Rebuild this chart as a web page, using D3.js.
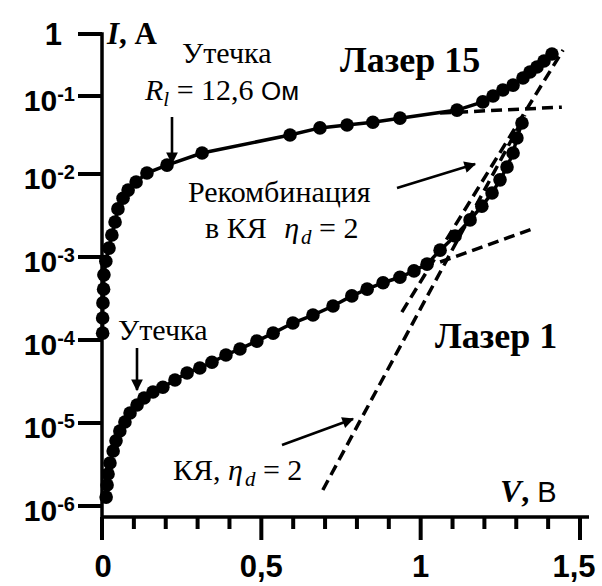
<!DOCTYPE html>
<html>
<head>
<meta charset="utf-8">
<script src="https://cdn.jsdelivr.net/npm/d3@7"></script>
<style>
  body { margin: 0; background: #fff; }
  svg { display: block; }
  .serif { font-family: "Liberation Serif", "Times New Roman", serif; }
  .sans { font-family: "Liberation Sans", Arial, sans-serif; }
</style>
</head>
<body>
<svg id="chart" width="602" height="586"></svg>
<script>
// Laser 15 (upper curve), V in volts, I in amperes
var laser15V = [0.002, 0.002, 0.003, 0.005, 0.006, 0.012, 0.022, 0.031, 0.041, 0.050,
    0.066, 0.082, 0.107, 0.141, 0.204, 0.314, 0.590, 0.684, 0.769, 0.850,
    0.935, 1.114, 1.195, 1.227, 1.258, 1.290, 1.321, 1.343, 1.365, 1.387, 1.412];
var laser15I = [1.21e-4, 1.84e-4, 2.8e-4, 4.1e-4, 6.1e-4, 8.9e-4, 1.28e-3, 1.84e-3, 2.64e-3, 3.8e-3,
    5.1e-3, 6.4e-3, 8.0e-3, 1.03e-2, 1.30e-2, 1.86e-2, 3.16e-2, 3.9e-2, 4.25e-2, 4.6e-2,
    5.2e-2, 6.6e-2, 8.4e-2, 0.100, 0.125, 0.150, 0.195, 0.244, 0.294, 0.367, 0.475];

// Laser 1 (lower curve)
var laser1V = [0.013, 0.016, 0.019, 0.025, 0.035, 0.044, 0.056, 0.072, 0.088, 0.110,
    0.132, 0.160, 0.191, 0.229, 0.267, 0.307, 0.345, 0.389, 0.433, 0.486,
    0.537, 0.599, 0.662, 0.725, 0.784, 0.832, 0.882, 0.935, 0.979, 1.020,
    1.061, 1.108, 1.155, 1.192, 1.224, 1.249, 1.271, 1.290, 1.302, 1.318];
var laser1I = [1.28e-6, 1.79e-6, 2.43e-6, 3.3e-6, 4.6e-6, 6.1e-6, 8.0e-6, 1.03e-5, 1.32e-5, 1.65e-5,
    2.0e-5, 2.36e-5, 2.7e-5, 3.3e-5, 4.0e-5, 4.6e-5, 5.4e-5, 6.6e-5, 7.8e-5, 9.7e-5,
    1.21e-4, 1.6e-4, 2.0e-4, 2.57e-4, 3.4e-4, 4.1e-4, 4.9e-4, 5.7e-4, 6.8e-4, 8.2e-4,
    1.21e-3, 1.79e-3, 2.8e-3, 4.1e-3, 5.9e-3, 8.5e-3, 1.23e-2, 1.86e-2, 2.9e-2, 4.5e-2];

// dashed fit lines: [V, I] end points
var fitRecomb15 = [[0.941, 2.17e-4], [1.447, 0.552]];
var fitLeak15 = [[1.061, 6.05e-2], [1.443, 7.2e-2]];
var fitQW1 = [[0.693, 1.56e-6], [1.327, 5.7e-2]];
var fitLeak1 = [[1.061, 8.7e-4], [1.349, 2.17e-3]];

// axis ticks
var yTicks = [1e-6, 1e-5, 1e-4, 1e-3, 1e-2, 1e-1, 1];
var yTickExp = ["-6", "-5", "-4", "-3", "-2", "-1", ""];
var xMajor = [0, 0.5, 1, 1.5];
var xMinor = [0.1, 0.2, 0.3, 0.4, 0.6, 0.7, 0.8, 0.9, 1.1, 1.2, 1.3, 1.4];
var xLabels = ["0", "0,5", "1", "1,5"];

var svg = d3.select('#chart');

var x = d3.scaleLinear().domain([0, 1.5]).range([102, 580]);
// hand-drawn original: upper decade is shorter than the others
var y = d3.scaleLog().domain([1e-6, 1e-2, 1e-1, 1]).range([506, 174, 96, 34]);

var axisY0 = 517;
var W = 3.5;
var x0 = x(0);

// arrow head
svg.append('defs').append('marker')
    .attr('id', 'head')
    .attr('viewBox', '0 0 10 10')
    .attr('refX', 9).attr('refY', 5)
    .attr('markerWidth', 6).attr('markerHeight', 4.5)
    .attr('markerUnits', 'strokeWidth')
    .attr('orient', 'auto')
    .append('path')
    .attr('d', 'M0,0 L10,5 L0,10 z')
    .attr('fill', '#000');

// axis lines and ticks as filled rects
var gAxis = svg.append('g').attr('fill', '#000');
gAxis.append('rect')
    .attr('x', x0 - W / 2).attr('y', y(1) - W / 2)
    .attr('width', W).attr('height', axisY0 + 23 - y(1) + W / 2);
gAxis.append('rect')
    .attr('x', x0).attr('y', axisY0 - W / 2)
    .attr('width', 589 - x0).attr('height', W);
gAxis.selectAll('rect.minor')
    .data(xMinor)
    .join('rect')
    .attr('class', 'minor')
    .attr('x', d => x(d) - 2).attr('y', axisY0)
    .attr('width', 4).attr('height', 12);
gAxis.selectAll('rect.major')
    .data(xMajor)
    .join('rect')
    .attr('class', 'major')
    .attr('x', d => x(d) - 2).attr('y', axisY0)
    .attr('width', 4).attr('height', 23);
gAxis.selectAll('rect.ytk')
    .data(yTicks)
    .join('rect')
    .attr('class', 'ytk')
    .attr('x', x0 - 24).attr('y', d => y(d) - 2)
    .attr('width', 24).attr('height', 4);

// y tick labels
yTicks.forEach(function (t, i) {
    var ty = y(t);
    if (yTickExp[i] === '') {
        svg.append('text').attr('class', 'sans')
            .attr('x', 62).attr('y', ty + 11)
            .attr('text-anchor', 'end')
            .attr('font-size', 31).attr('font-weight', 'bold')
            .text('1');
        return;
    }
    var t1 = svg.append('text').attr('class', 'sans')
        .attr('x', 75).attr('y', ty + 15)
        .attr('text-anchor', 'end')
        .attr('font-weight', 'bold');
    t1.append('tspan').attr('font-size', 30).text('10');
    t1.append('tspan').attr('font-size', 20).attr('dy', -10).text(yTickExp[i]);
});

// x tick labels
xMajor.forEach(function (t, i) {
    svg.append('text').attr('class', 'sans')
        .attr('x', x(t) - (i === 3 ? 6 : 0) + (i === 0 ? 1 : 0))
        .attr('y', 577)
        .attr('text-anchor', 'middle')
        .attr('font-size', 31).attr('font-weight', 'bold')
        .text(xLabels[i]);
});

// dashed fits (white halo below)
var line = d3.line().x(d => x(d[0])).y(d => y(d[1]));
var fits = [fitRecomb15, fitLeak15, fitQW1, fitLeak1];
fits.forEach(function (f) {
    svg.append('path').attr('d', line(f))
        .attr('fill', 'none').attr('stroke', '#fff')
        .attr('stroke-width', 6.5).attr('stroke-dasharray', '11,6');
});

// data curves
function drawCurve(vs, is) {
    var pts = vs.map((v, i) => [v, is[i]]);
    svg.append('path').attr('d', line(pts))
        .attr('fill', 'none').attr('stroke', '#000').attr('stroke-width', W);
    svg.append('g').selectAll('circle')
        .data(pts)
        .enter()
        .append('circle')
        .attr('cx', d => x(d[0]))
        .attr('cy', d => y(d[1]))
        .attr('r', 6.8)
        .attr('fill', '#000');
}
drawCurve(laser15V, laser15I);
drawCurve(laser1V, laser1I);

fits.forEach(function (f) {
    svg.append('path').attr('d', line(f))
        .attr('fill', 'none').attr('stroke', '#000')
        .attr('stroke-width', W).attr('stroke-dasharray', '11,6');
});

// arrows
function arrow(x1, y1, x2, y2) {
    svg.append('line')
        .attr('x1', x1).attr('y1', y1).attr('x2', x2).attr('y2', y2)
        .attr('stroke', '#000').attr('stroke-width', 2.6)
        .attr('marker-end', 'url(#head)');
}
arrow(172, 117, 172, 163);
arrow(137, 348, 137, 390);
arrow(397, 188, 475, 164);
arrow(282, 445, 353, 419);

// texts
function txt(xp, yp, size, cls) {
    return svg.append('text').attr('class', cls || 'serif')
        .attr('x', xp).attr('y', yp).attr('font-size', size);
}
var sansFam = '"Liberation Sans", Arial, sans-serif';

var ti = txt(107, 44, 31);
ti.append('tspan').attr('font-style', 'italic').attr('font-weight', 'bold').text('I');
ti.append('tspan').attr('font-weight', 'bold').text(', А');

txt(182, 63, 30).text('Утечка');

var tr = txt(145, 100, 30);
tr.append('tspan').attr('font-style', 'italic').text('R');
tr.append('tspan').attr('font-style', 'italic').attr('font-size', 21).attr('dy', 6).text('l');
tr.append('tspan').attr('dy', -6).text(' = 12,6 ');
tr.append('tspan').style('font-family', sansFam).attr('font-size', 26).text('Ом');

txt(340, 72, 36).attr('font-weight', 'bold').text('Лазер 15');

txt(188, 202, 30).text('Рекомбинация');
var tq = txt(205, 238, 30);
tq.append('tspan').text('в КЯ ');
tq.append('tspan').attr('dx', 10).attr('font-style', 'italic').text('η');
tq.append('tspan').attr('font-style', 'italic').attr('font-size', 21).attr('dx', 2).attr('dy', 6).text('d');
tq.append('tspan').attr('dy', -6).text(' = 2');

txt(118, 340, 30).text('Утечка');
txt(435, 348, 36).attr('font-weight', 'bold').text('Лазер 1');

var tk = txt(173, 480, 30);
tk.append('tspan').text('КЯ, ');
tk.append('tspan').attr('font-style', 'italic').text('η');
tk.append('tspan').attr('font-style', 'italic').attr('font-size', 21).attr('dx', 2).attr('dy', 6).text('d');
tk.append('tspan').attr('dy', -6).text(' = 2');

var tv = txt(500, 502, 32);
tv.append('tspan').attr('font-style', 'italic').attr('font-weight', 'bold').text('V');
tv.append('tspan').attr('font-weight', 'bold').text(', ');
tv.append('tspan').style('font-family', sansFam).attr('font-size', 29).text('В');
</script>
</body>
</html>
